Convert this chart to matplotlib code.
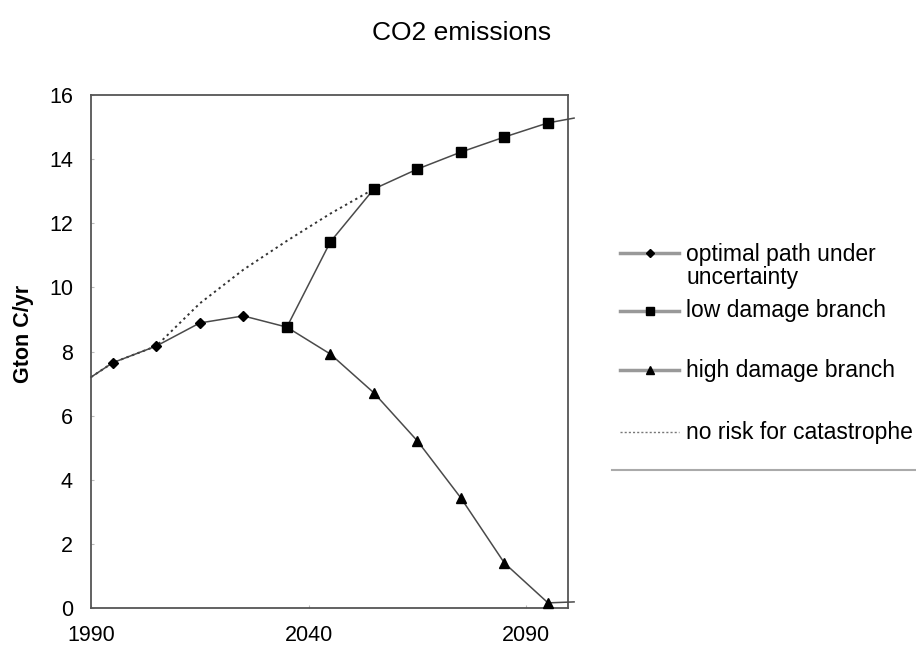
import matplotlib
matplotlib.use("Agg")
import matplotlib.pyplot as plt
from matplotlib.lines import Line2D

plt.rcParams['font.family'] = ['Liberation Sans', 'DejaVu Sans']

# ---- data ----
opt_years = [1990, 1995, 2005, 2015, 2025, 2035]
optimal = [7.2, 7.65, 8.17, 8.89, 9.11, 8.76]

branch_years = [2035, 2045, 2055, 2065, 2075, 2085, 2095, 2101]
low_damage = [8.76, 11.42, 13.07, 13.69, 14.22, 14.69, 15.13, 15.28]
high_damage = [8.76, 7.92, 6.71, 5.21, 3.43, 1.40, 0.16, 0.19]

norisk_years = [1990, 1995, 2005, 2015, 2025, 2035, 2045, 2055]
no_risk = [7.2, 7.65, 8.17, 9.5, 10.55, 11.45, 12.3, 13.07]

x_ticks = [1990, 2040, 2090]
y_ticks = [0, 2, 4, 6, 8, 10, 12, 14, 16]

labels = ["optimal path under\nuncertainty", "low damage branch",
          "high damage branch", "no risk for catastrophe"]

W, H = 916, 649
fig = plt.figure(figsize=(W / 100, H / 100), dpi=100)
ax = fig.add_axes([91 / W, 1 - 608 / H, (568 - 91) / W, (608 - 95) / H])

line_col = '#4a4a4a'
ax.plot(norisk_years, no_risk, linestyle=(0, (1.2, 1.8)), color='#333333',
        lw=1.4, clip_on=False, zorder=2)
ax.plot(opt_years, optimal, color=line_col, lw=1.1, marker='D', ms=5.5,
        mfc='black', mec='black', markevery=[1, 2, 3, 4], clip_on=False, zorder=3)
ax.plot(branch_years, high_damage, color=line_col, lw=1.1, marker='^', ms=7,
        mfc='black', mec='black', markevery=[1, 2, 3, 4, 5, 6], clip_on=False, zorder=3)
ax.plot(branch_years, low_damage, color=line_col, lw=1.1, marker='s', ms=6.5,
        mfc='black', mec='black', markevery=[0, 1, 2, 3, 4, 5, 6], clip_on=False, zorder=4)

ax.set_xlim(1990, 2099.6)
ax.set_ylim(0, 16)
ax.set_xticks(x_ticks)
ax.set_yticks(y_ticks)
ax.tick_params(axis='both', direction='in', length=2, color='#bbbbbb',
               labelsize=15.5)
ax.tick_params(axis='x', pad=12)
ax.tick_params(axis='y', pad=13)
for s in ax.spines.values():
    s.set_color('#555555')
    s.set_linewidth(1.3)

ax.set_ylabel("Gton C/yr", fontsize=15.5, fontweight='bold')
ax.yaxis.set_label_coords((34 - 91) / (568 - 91), (608 - 334) / (608 - 95))

fig.text(462 / W, 1 - 33 / H, "CO2 emissions", ha='center', va='center', fontsize=19)

# ---- legend (drawn by hand) ----
ys = [253, 311, 370, 432]
markers = ['D', 's', '^', None]
msizes = [4.5, 6, 6, 0]
for i, (y, lab) in enumerate(zip(ys, labels)):
    yf = 1 - y / H
    if markers[i] is not None:
        fig.add_artist(Line2D([620 / W, 679 / W], [yf, yf], color='#999999', lw=2.5,
                              transform=fig.transFigure))
        fig.add_artist(Line2D([649.5 / W], [yf], marker=markers[i], ms=msizes[i],
                              mfc='black', mec='black', linestyle='none',
                              transform=fig.transFigure))
    else:
        fig.add_artist(Line2D([620 / W, 679 / W], [yf, yf], color='#777777', lw=1.0,
                              linestyle=(0, (1.5, 1.5)), transform=fig.transFigure))
    if i == 0:
        fig.text(686 / W, 1 - 266 / H, lab, ha='left', va='center',
                 fontsize=16.5, linespacing=1.0)
    else:
        fig.text(686 / W, yf, lab, ha='left', va='center', fontsize=16.5)

fig.add_artist(Line2D([612 / W, 1.0], [1 - 470 / H, 1 - 470 / H], color='#aaaaaa',
                      lw=1.5, transform=fig.transFigure))

fig.savefig("out.png", dpi=100)
